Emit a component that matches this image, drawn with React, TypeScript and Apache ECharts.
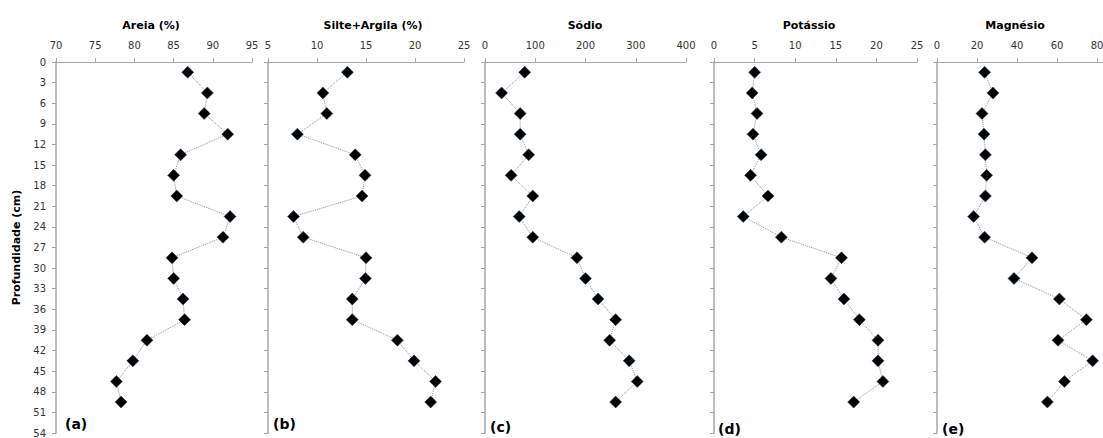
import React, { useEffect, useRef } from "react";
import * as echarts from "echarts";

const depths = [1.5, 4.5, 7.5, 10.5, 13.5, 16.5, 19.5, 22.5, 25.5, 28.5, 31.5, 34.5, 37.5, 40.5, 43.5, 46.5, 49.5];
const areia = [86.8, 89.3, 88.9, 91.9, 85.9, 85.0, 85.4, 92.2, 91.3, 84.8, 85.0, 86.2, 86.4, 81.6, 79.8, 77.7, 78.3];
const silteArgila = [13.1, 10.6, 11.0, 8.0, 13.9, 14.9, 14.6, 7.6, 8.6, 15.0, 14.95, 13.6, 13.6, 18.2, 19.9, 22.1, 21.6];
const sodio = [79, 33, 70, 70, 87, 52, 95, 68, 95, 183, 200, 225, 260, 248, 287, 303, 260];
const potassio = [5.0, 4.7, 5.3, 4.8, 5.8, 4.5, 6.65, 3.6, 8.3, 15.7, 14.4, 16.0, 17.9, 20.2, 20.2, 20.8, 17.2];
const magnesio = [23.8, 28, 22.5, 23.5, 24.2, 24.8, 24.2, 18.3, 23.8, 47.5, 38.5, 61.2, 74.7, 60.5, 77.8, 63.7, 55.2];

const titles = ["Areia (%)", "Silte+Argila (%)", "Sódio", "Potássio", "Magnésio"];
const panelLabels = ["(a)", "(b)", "(c)", "(d)", "(e)"];
const xMins = [70, 5, 0, 0, 0];
const xMaxs = [95, 25, 400, 25, 100];
const xIntervals = [5, 5, 100, 5, 20];
const yTicksMax = 54;
const yInterval = 3;
const yName = "Profundidade (cm)";

const seriesValues = [areia, silteArgila, sodio, potassio, magnesio];

export default function App() {
  const ref = useRef<HTMLDivElement>(null);
  useEffect(() => {
    document.body.style.margin = "0";
    const chart = echarts.init(ref.current!, undefined, { renderer: "svg" });
    const lefts = [56, 268, 485, 714, 937];
    const widths = [196, 196, 201, 203, 200];
    const titleX = [151, 373, 585, 809, 1015];
    const labelPos = [[65, 424], [273, 424], [490, 427], [718, 429], [942, 429]];
    const font = "DejaVu Sans";
    const axisColor = "#a6a6a6";
    const grids = lefts.map((l, i) => ({ left: l, top: 62, width: widths[i], height: 371, outerBoundsMode: "none", containLabel: false }));
    const xAxes = lefts.map((_, i) => ({
      type: "value",
      gridIndex: i,
      position: "top",
      min: xMins[i],
      max: xMaxs[i],
      interval: xIntervals[i],
      splitLine: { show: false },
      axisLine: { show: true, lineStyle: { color: axisColor, width: 1 } },
      axisTick: { show: true, inside: false, length: 4, lineStyle: { color: axisColor } },
      axisLabel: { margin: 12, color: "#333", fontFamily: font, fontSize: 10, showMaxLabel: i !== 4, showMinLabel: true },
    }));
    const yAxes = lefts.map((_, i) => ({
      type: "value",
      gridIndex: i,
      inverse: true,
      min: 0,
      max: yTicksMax,
      interval: yInterval,
      splitLine: { show: false },
      axisLine: { show: true, lineStyle: { color: axisColor, width: 1.5 } },
      axisTick: { show: true, inside: false, length: 4, lineStyle: { color: axisColor } },
      axisLabel: { show: i === 0, margin: 10, color: "#333", fontFamily: font, fontSize: 10 },
      name: i === 0 ? yName : "",
      nameLocation: "middle",
      nameRotate: 90,
      nameGap: 34,
      nameTextStyle: { fontFamily: font, fontWeight: "bold", fontSize: 11, color: "#000" },
    }));
    const series = seriesValues.map((vals, i) => ({
      type: "line",
      xAxisIndex: i,
      yAxisIndex: i,
      data: vals.map((v, k) => [v, depths[k]]),
      symbol: "diamond",
      symbolSize: 12,
      itemStyle: { color: "#000", borderColor: "#1f3a60", borderWidth: 0.5 },
      lineStyle: { color: "#8c8c8c", width: 1, type: "dotted" },
      z: 3,
    }));
    const graphic: any[] = [];
    titles.forEach((t, i) => {
      graphic.push({
        type: "text",
        x: titleX[i],
        y: 25,
        style: { text: t, fontFamily: font, fontWeight: "bold", fontSize: 11, fill: "#000", align: "center", verticalAlign: "middle" },
      });
    });
    panelLabels.forEach((t, i) => {
      graphic.push({
        type: "text",
        x: labelPos[i][0],
        y: labelPos[i][1],
        z: 10,
        style: { text: t, fontFamily: font, fontWeight: "bold", fontSize: 14, fill: "#000", align: "left", verticalAlign: "middle" },
      });
    });
    chart.setOption({
      animation: false,
      backgroundColor: "#fff",
      grid: grids,
      xAxis: xAxes,
      yAxis: yAxes,
      series,
      graphic,
    });
    return () => chart.dispose();
  }, []);
  return <div ref={ref} style={{ width: 1103, height: 438, overflow: "hidden" }} />;
}
